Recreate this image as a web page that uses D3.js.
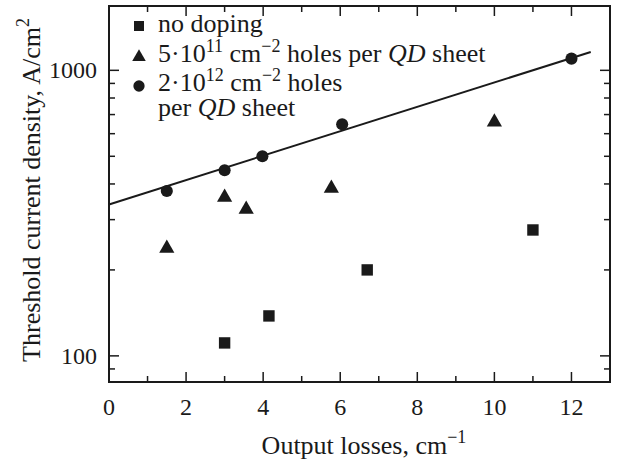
<!DOCTYPE html>
<html>
<head>
<meta charset="utf-8">
<title>Threshold current density vs output losses</title>
<script src="https://cdn.jsdelivr.net/npm/d3@7"></script>
<style>
  body { margin: 0; background: #fff; }
  svg text { font-family: "Liberation Serif", "Times New Roman", serif; fill: #1a1a1a; }
</style>
</head>
<body>
<div id="chart"></div>
<script>
// data
var noDopingX = [3.0, 4.15, 6.7, 11.0];
var noDopingY = [111, 138, 200, 276];
var dop5e11X = [1.5, 3.0, 3.56, 5.77, 10.0];
var dop5e11Y = [238, 359, 326, 386, 659];
var dop2e12X = [1.5, 3.0, 3.98, 6.05, 12.0];
var dop2e12Y = [378, 447, 500, 647, 1099];
var fitX = [0, 12.5];
var fitY = [339, 1160];
var xTicks = [0, 2, 4, 6, 8, 10, 12];
var xMinor = [1, 3, 5, 7, 9, 11];
var yTicks = [100, 1000];
var yMinor = [90, 200, 300, 400, 500, 600, 700, 800, 900];

(function (d3) {
    'use strict';

    var width = 619, height = 464;
    var pLeft = 109, pRight = 610, pTop = 6, pBottom = 382;
    var ink = '#1a1a1a';

    var svg = d3.select('#chart').append('svg')
        .attr('width', width)
        .attr('height', height);

    var x = d3.scaleLinear().domain([0, 13]).range([pLeft, pRight]);
    var y = d3.scaleLog().domain([81, 1680]).range([pBottom, pTop]);

    // ticks, all pointing inwards
    var g = svg.append('g');
    function tick(x1, y1, x2, y2) {
        g.append('line').attr('x1', x1).attr('y1', y1).attr('x2', x2).attr('y2', y2)
            .attr('stroke', ink).attr('stroke-width', 1.5);
    }
    xTicks.forEach(function (d) {
        tick(x(d), pBottom, x(d), pBottom - 10);
        tick(x(d), pTop, x(d), pTop + 10);
    });
    xMinor.forEach(function (d) {
        tick(x(d), pBottom, x(d), pBottom - 6);
        tick(x(d), pTop, x(d), pTop + 6);
    });
    yTicks.forEach(function (d) {
        tick(pLeft, y(d), pLeft + 10, y(d));
        tick(pRight, y(d), pRight - 10, y(d));
    });
    yMinor.forEach(function (d) {
        tick(pLeft, y(d), pLeft + 6, y(d));
        tick(pRight, y(d), pRight - 6, y(d));
    });

    svg.append('rect')
        .attr('x', pLeft).attr('y', pTop)
        .attr('width', pRight - pLeft).attr('height', pBottom - pTop)
        .attr('fill', 'none').attr('stroke', ink).attr('stroke-width', 2);

    // tick labels
    svg.selectAll('.xl').data(xTicks).enter().append('text')
        .attr('x', function (d) { return x(d); })
        .attr('y', 415)
        .attr('text-anchor', 'middle')
        .style('font-size', '24px')
        .text(function (d) { return d; });

    svg.selectAll('.yl').data(yTicks).enter().append('text')
        .attr('x', 97)
        .attr('y', function (d) { return y(d) + 8; })
        .attr('text-anchor', 'end')
        .style('font-size', '24px')
        .text(function (d) { return d; });

    // axis titles
    var xt = svg.append('text')
        .attr('x', 364).attr('y', 454)
        .attr('text-anchor', 'middle')
        .style('font-size', '26px');
    xt.append('tspan').text('Output losses, cm');
    xt.append('tspan').attr('dy', -11).style('font-size', '18px').text('\u22121');

    var yt = svg.append('text')
        .attr('transform', 'translate(40,190) rotate(-90)')
        .attr('text-anchor', 'middle')
        .style('font-size', '26px');
    yt.append('tspan').text('Threshold current density, A/cm');
    yt.append('tspan').attr('dy', -11).style('font-size', '18px').text('2');

    // fit line
    var line = d3.line()
        .x(function (d) { return x(d[0]); })
        .y(function (d) { return y(d[1]); });
    svg.append('path')
        .datum(d3.zip(fitX, fitY))
        .attr('d', line)
        .attr('fill', 'none')
        .attr('stroke', ink)
        .attr('stroke-width', 2);

    // markers
    var square = d3.symbol().type(d3.symbolSquare).size(130);
    var triangle = d3.symbol().type(d3.symbolTriangle).size(100);
    var circle = d3.symbol().type(d3.symbolCircle).size(115);

    function points(xs, ys, sym) {
        svg.append('g').selectAll('path')
            .data(d3.zip(xs, ys))
            .enter().append('path')
            .attr('d', sym)
            .attr('transform', function (d) { return 'translate(' + x(d[0]) + ',' + y(d[1]) + ')'; })
            .attr('fill', ink);
    }
    points(noDopingX, noDopingY, square);
    points(dop5e11X, dop5e11Y, triangle);
    points(dop2e12X, dop2e12Y, circle);

    // legend
    var legend = svg.append('g').style('font-size', '26px');
    legend.append('path').attr('d', d3.symbol().type(d3.symbolSquare).size(100))
        .attr('transform', 'translate(139,26)').attr('fill', ink);
    legend.append('path').attr('d', d3.symbol().type(d3.symbolTriangle).size(80))
        .attr('transform', 'translate(139,57)').attr('fill', ink);
    legend.append('path').attr('d', d3.symbol().type(d3.symbolCircle).size(100))
        .attr('transform', 'translate(139,86)').attr('fill', ink);

    legend.append('text').attr('x', 158).attr('y', 32).text('no doping');

    var l2 = legend.append('text').attr('x', 158).attr('y', 62);
    l2.append('tspan').text('5\u00b710');
    l2.append('tspan').attr('dy', -10).style('font-size', '18px').text('11');
    l2.append('tspan').attr('dy', 10).text(' cm');
    l2.append('tspan').attr('dy', -10).style('font-size', '18px').text('\u22122');
    l2.append('tspan').attr('dy', 10).text(' holes per ');
    l2.append('tspan').style('font-style', 'italic').text('QD');
    l2.append('tspan').text(' sheet');

    var l3 = legend.append('text').attr('x', 158).attr('y', 91);
    l3.append('tspan').text('2\u00b710');
    l3.append('tspan').attr('dy', -10).style('font-size', '18px').text('12');
    l3.append('tspan').attr('dy', 10).text(' cm');
    l3.append('tspan').attr('dy', -10).style('font-size', '18px').text('\u22122');
    l3.append('tspan').attr('dy', 10).text(' holes');

    var l4 = legend.append('text').attr('x', 158).attr('y', 116);
    l4.append('tspan').text('per ');
    l4.append('tspan').style('font-style', 'italic').text('QD');
    l4.append('tspan').text(' sheet');
})(window.d3);
</script>
</body>
</html>
